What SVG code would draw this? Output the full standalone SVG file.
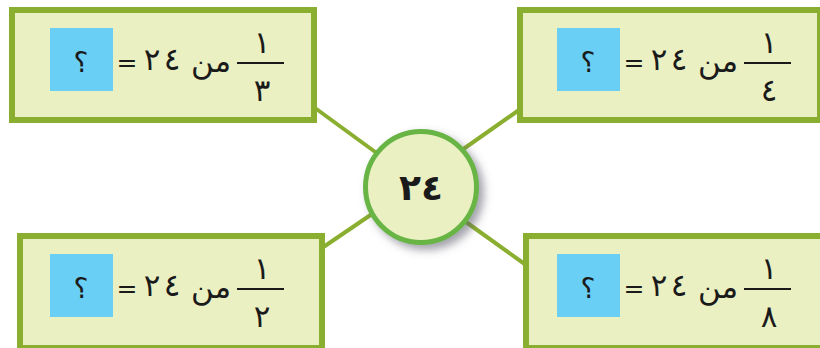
<svg xmlns="http://www.w3.org/2000/svg" width="820" height="348" viewBox="0 0 820 348">
<defs>
<style>
.box{fill:#eaf0c2;stroke:#8aae2f;stroke-width:6}
.ans{fill:#6acff5}
.t{font-family:"DejaVu Sans",sans-serif;font-size:28px;fill:#1a1a1a;text-anchor:middle}
.eq{font-size:25px}
.d{font-size:31px}
.mn{font-size:31px}
.fl{stroke:#1a1a1a;stroke-width:2}
.conn{stroke:#8aae2f;stroke-width:4;fill:none}
.hub{fill:#eaf0c2;stroke:#68b545;stroke-width:5}
.hubt{font-family:"DejaVu Sans",sans-serif;font-size:36px;font-weight:bold;fill:#1a1a1a;text-anchor:middle}
</style>
<filter id="sh" x="-30%" y="-30%" width="170%" height="170%">
<feDropShadow dx="5" dy="5" stdDeviation="4" flood-color="#555566" flood-opacity="0.55"/>
</filter>
</defs>
<g id="connectors">
<line class="conn" x1="315" y1="108" x2="378" y2="154"/>
<line class="conn" x1="519" y1="110" x2="462" y2="150"/>
<line class="conn" x1="322" y1="248" x2="372" y2="214"/>
<line class="conn" x1="466" y1="222" x2="526" y2="265"/>
</g>
<g id="box-third">
<rect class="box" x="12" y="10" width="302" height="110"/>
<rect class="ans" x="50" y="28" width="63" height="63"/>
<text class="t" x="81" y="72">؟</text>
<text class="t eq" x="127" y="71">=</text>
<text class="t d" x="152" y="70">٢</text>
<text class="t d" x="172" y="70">٤</text>
<text class="t mn" x="211" y="72">من</text>
<line class="fl" x1="237" y1="63" x2="284" y2="63"/>
<text class="t d" x="262" y="53">١</text>
<text class="t d" x="262" y="101">٣</text>
</g>
<g id="box-quarter" transform="translate(507,0)">
<rect class="box" x="13" y="10" width="300" height="110"/>
<rect class="ans" x="50" y="28" width="63" height="63"/>
<text class="t" x="81" y="72">؟</text>
<text class="t eq" x="127" y="71">=</text>
<text class="t d" x="152" y="70">٢</text>
<text class="t d" x="172" y="70">٤</text>
<text class="t mn" x="211" y="72">من</text>
<line class="fl" x1="237" y1="63" x2="284" y2="63"/>
<text class="t d" x="262" y="53">١</text>
<text class="t d" x="262" y="101">٤</text>
</g>
<g id="box-half" transform="translate(0,226)">
<rect class="box" x="20" y="10" width="302" height="112"/>
<rect class="ans" x="50" y="28" width="63" height="63"/>
<text class="t" x="81" y="72">؟</text>
<text class="t eq" x="127" y="71">=</text>
<text class="t d" x="152" y="70">٢</text>
<text class="t d" x="172" y="70">٤</text>
<text class="t mn" x="211" y="72">من</text>
<line class="fl" x1="237" y1="63" x2="284" y2="63"/>
<text class="t d" x="262" y="53">١</text>
<text class="t d" x="262" y="101">٢</text>
</g>
<g id="box-eighth" transform="translate(507,226)">
<rect class="box" x="19" y="10" width="300" height="112"/>
<rect class="ans" x="50" y="28" width="63" height="63"/>
<text class="t" x="81" y="72">؟</text>
<text class="t eq" x="127" y="71">=</text>
<text class="t d" x="152" y="70">٢</text>
<text class="t d" x="172" y="70">٤</text>
<text class="t mn" x="211" y="72">من</text>
<line class="fl" x1="237" y1="63" x2="284" y2="63"/>
<text class="t d" x="262" y="53">١</text>
<text class="t d" x="262" y="101">٨</text>
</g>
<g id="hub">
<circle class="hub" cx="421" cy="187" r="55.5" filter="url(#sh)"/>
<text class="hubt" x="410" y="200">٢</text>
<text class="hubt" x="432" y="200">٤</text>
</g>
</svg>
